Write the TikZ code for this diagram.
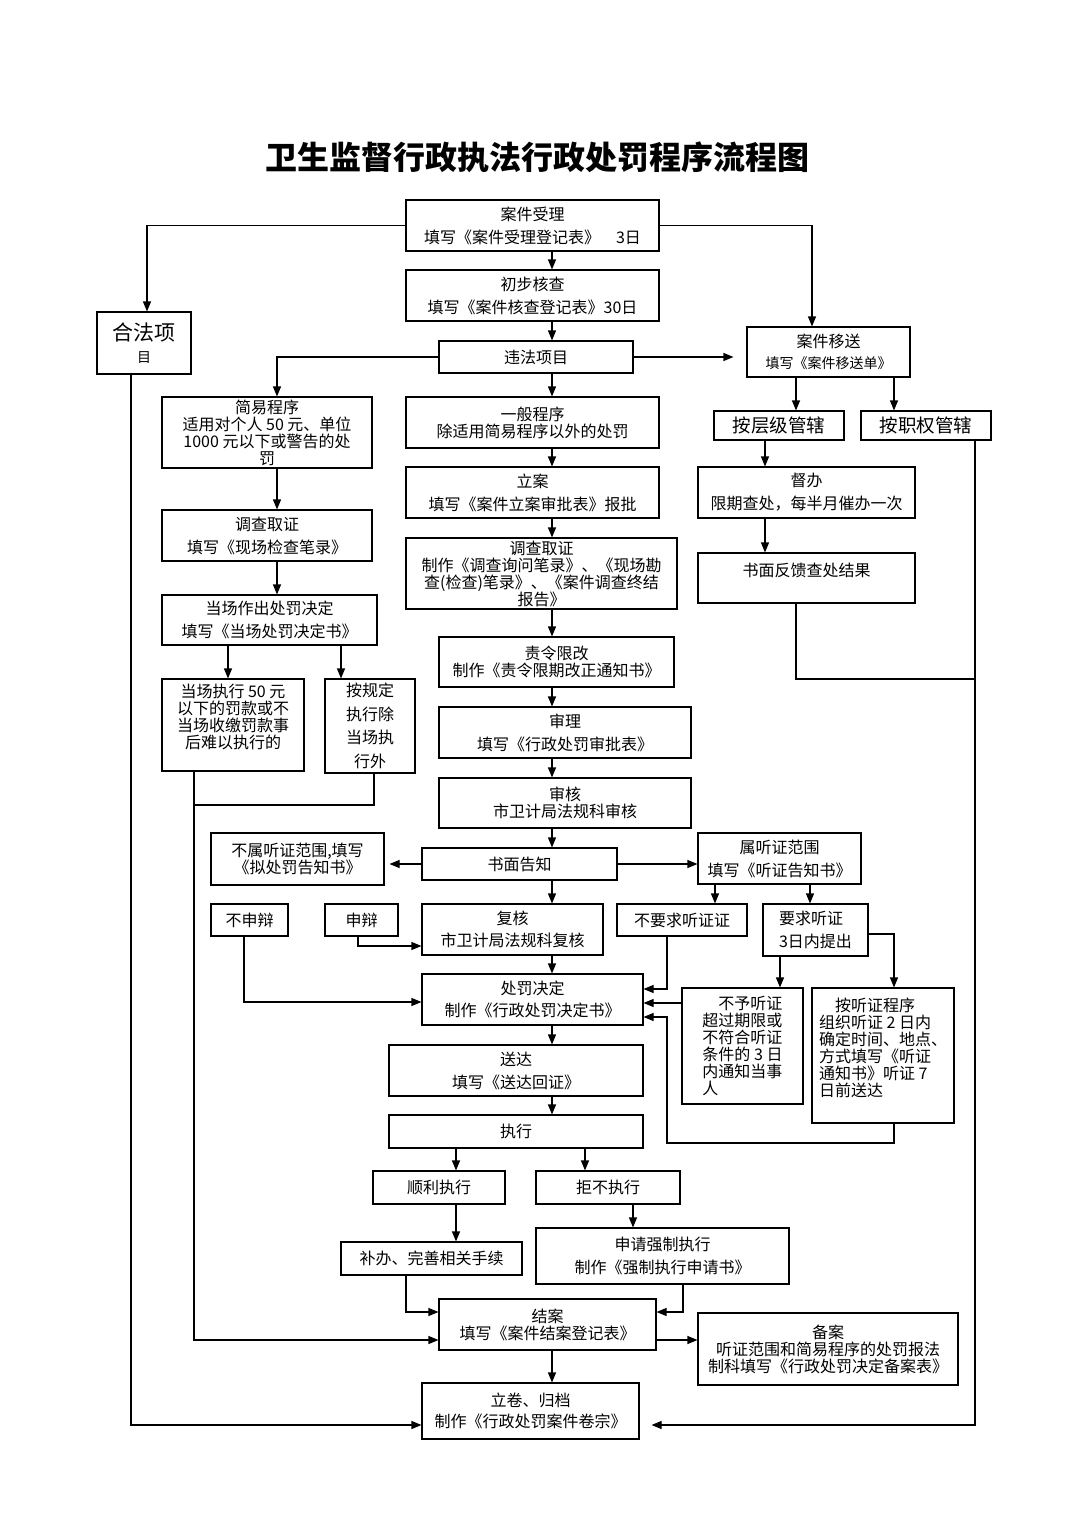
\documentclass[tikz,border=0pt]{standalone}
\usepackage{fontspec}
\setmainfont{Noto Sans CJK SC}
\usetikzlibrary{arrows.meta}

\begin{document}
\begin{tikzpicture}[x=1pt, y=-1pt, >={Triangle[length=10pt,width=8pt]},
  every node/.style={font=\fontsize{16}{17}\selectfont, align=center},
  box/.style={draw, line width=1.1pt, inner sep=1pt},
  link/.style={line width=1.1pt}]
  \useasboundingbox (0,0) rectangle (1074,1520);
  \node[font=\fontsize{32}{36}\selectfont\bfseries] (title) at (537,157) {卫生监督行政执法行政处罚程序流程图};

  \node[box, minimum width=253, minimum height=51] (accept) at (532.5,225.5) {案件受理\\[6pt]填写《案件受理登记表》\quad 3日};
  \node[box, minimum width=253, minimum height=51] (check) at (532.5,295.5) {初步核查\\[6pt]填写《案件核查登记表》30日};
  \node[box, minimum width=94, minimum height=62] (legal) at (144,343) {\fontsize{21}{24}\selectfont 合法项\\[5pt]\fontsize{14}{16}\selectfont 目};
  \node[box, minimum width=194, minimum height=32] (illegal) at (536,357) {违法项目};
  \node[box, minimum width=163, minimum height=50] (transfer) at (828.5,352) {案件移送\\[4pt]\fontsize{14}{16}\selectfont 填写《案件移送单》};
  \node[box, minimum width=130, minimum height=29, font=\fontsize{18.5}{20}\selectfont] (level) at (779,425.5) {按层级管辖};
  \node[box, minimum width=130, minimum height=29, font=\fontsize{18.5}{20}\selectfont] (power) at (926,425.5) {按职权管辖};
  \node[box, minimum width=210, minimum height=71] (simple) at (267,432.5) {简易程序\\适用对个人 50 元、单位\\1000 元以下或警告的处\\罚};
  \node[box, minimum width=253, minimum height=51] (general) at (532.5,422.5) {一般程序\\除适用简易程序以外的处罚};
  \node[box, minimum width=253, minimum height=51] (file) at (532.5,492.5) {立案\\[6pt]填写《案件立案审批表》报批};
  \node[box, minimum width=217, minimum height=51] (supervise) at (806.5,492.5) {督办\\[6pt]限期查处，每半月催办一次};
  \node[box, minimum width=210, minimum height=51] (invest1) at (267,535.5) {调查取证\\[6pt]填写《现场检查笔录》};
  \node[box, minimum width=271, minimum height=71] (invest2) at (541.5,573.5) {调查取证\\制作《调查询问笔录》、《现场勘\\查(检查)笔录》、《案件调查终结\\报告》};
  \node[box, minimum width=217, minimum height=50] (feedback) at (806.5,578) {书面反馈查处结果\\[0pt]~};
  \node[box, minimum width=215, minimum height=50] (onsite) at (269.5,620) {当场作出处罚决定\\[6pt]填写《当场处罚决定书》};
  \node[box, minimum width=235, minimum height=50] (order) at (556.5,662) {责令限改\\制作《责令限期改正通知书》};
  \node[box, minimum width=142, minimum height=92] (exec1) at (233,725) {当场执行 50 元\\以下的罚款或不\\当场收缴罚款事\\后难以执行的\\~};
  \node[box, minimum width=90, minimum height=94] (exec2) at (370,726) {按规定\\[6.5pt]执行除\\[6.5pt]当场执\\[6.5pt]行外};
  \node[box, minimum width=252, minimum height=51] (trial) at (565,732.5) {审理\\[6pt]填写《行政处罚审批表》};
  \node[box, minimum width=252, minimum height=50] (audit) at (565,803) {审核\\市卫计局法规科审核};
  \node[box, minimum width=173, minimum height=52] (nohear) at (297.5,859) {不属听证范围,填写\\《拟处罚告知书》};
  \node[box, minimum width=195, minimum height=32] (notify) at (519.5,864) {书面告知};
  \node[box, minimum width=163, minimum height=51] (hear) at (779.5,858.5) {属听证范围\\[6pt]填写《听证告知书》};
  \node[box, minimum width=77, minimum height=32] (nodefend) at (249.5,920) {不申辩};
  \node[box, minimum width=73, minimum height=32] (defend) at (361.5,920) {申辩};
  \node[box, minimum width=181, minimum height=51] (review) at (512.5,929.5) {复核\\[5.5pt]市卫计局法规科复核};
  \node[box, minimum width=130, minimum height=32] (norequest) at (682,920) {不要求听证证};
  \node[box, minimum width=105, minimum height=52, align=left] (request) at (815.5,930) {要求听证\\[6pt]3日内提出};
  \node[box, minimum width=221, minimum height=51] (decision) at (532.5,999.5) {处罚决定\\[4.5pt]制作《行政处罚决定书》};
  \node[box, minimum width=121, minimum height=116, align=left] (nogrant) at (742.5,1046) {\quad 不予听证\\超过期限或\\不符合听证\\条件的 3 日\\内通知当事\\人};
  \node[box, minimum width=142, minimum height=135, align=left] (hearproc) at (883,1055.5) {\quad 按听证程序\\组织听证 2 日内\\确定时间、地点、\\方式填写《听证\\通知书》听证 7\\日前送达\\~};
  \node[box, minimum width=254, minimum height=51] (deliver) at (516,1070.5) {送达\\[6pt]填写《送达回证》};
  \node[box, minimum width=254, minimum height=33] (execute) at (516,1131.5) {执行};
  \node[box, minimum width=132, minimum height=33] (smooth) at (439,1187.5) {顺利执行};
  \node[box, minimum width=144, minimum height=33] (refuse) at (608,1187.5) {拒不执行};
  \node[box, minimum width=181, minimum height=33] (supplement) at (431.5,1258.5) {补办、完善相关手续};
  \node[box, minimum width=253, minimum height=56] (enforce) at (662.5,1256) {申请强制执行\\[6.5pt]制作《强制执行申请书》};
  \node[box, minimum width=217, minimum height=51] (close) at (547.5,1324.5) {结案\\填写《案件结案登记表》};
  \node[box, minimum width=260, minimum height=72] (record) at (828,1349) {备案\\听证范围和简易程序的处罚报法\\制科填写《行政处罚决定备案表》};
  \node[box, minimum width=217, minimum height=56] (archive) at (530.5,1411) {立卷、归档\\[4.5pt]制作《行政处罚案件卷宗》};

  \coordinate (fbjoin) at (975,679);
  \coordinate (execjoin) at (194,805);

  \draw[->, link] (accept.west) -| (147,0 |- legal.north);
  \draw[->, link] (accept.east) -| (812,0 |- transfer.north);
  \draw[->, link] (552,0 |- accept.south) -- (552,0 |- check.north);
  \draw[->, link] (552,0 |- check.south) -- (552,0 |- illegal.north);
  \draw[->, link] (illegal.west) -| (277,0 |- simple.north);
  \draw[->, link, shorten >=13pt] (illegal.east) -- (illegal.east -| transfer.west);
  \draw[->, link] (552,0 |- illegal.south) -- (552,0 |- general.north);
  \draw[->, link] (796,0 |- transfer.south) -- (796,0 |- level.north);
  \draw[->, link] (894,0 |- transfer.south) -- (894,0 |- power.north);
  \draw[->, link] (765,0 |- level.south) -- (765,0 |- supervise.north);
  \draw[->, link] (765,0 |- supervise.south) -- (765,0 |- feedback.north);
  \draw[link] (796,0 |- feedback.south) |- (fbjoin);
  \draw[->, link, shorten >=12pt] (975,0 |- power.south) |- (archive.east |- 0,1425);
  \draw[->, link] (131,0 |- legal.south) |- (archive.west |- 0,1425);

  \draw[->, link] (277,0 |- simple.south) -- (277,0 |- invest1.north);
  \draw[->, link] (277,0 |- invest1.south) -- (277,0 |- onsite.north);
  \draw[->, link] (228,0 |- onsite.south) -- (228,0 |- exec1.north);
  \draw[->, link] (341,0 |- onsite.south) -- (341,0 |- exec2.north);
  \draw[->, link] (194,0 |- exec1.south) |- (close.west |- 0,1340);
  \draw[link] (374,0 |- exec2.south) |- (execjoin);

  \draw[->, link] (552,0 |- general.south) -- (552,0 |- file.north);
  \draw[->, link] (552,0 |- file.south) -- (552,0 |- invest2.north);
  \draw[->, link] (552,0 |- invest2.south) -- (552,0 |- order.north);
  \draw[->, link] (552,0 |- order.south) -- (552,0 |- trial.north);
  \draw[->, link] (552,0 |- trial.south) -- (552,0 |- audit.north);
  \draw[->, link] (552,0 |- audit.south) -- (552,0 |- notify.north);
  \draw[->, link, shorten >=5pt] (notify.west) -- (notify.west -| nohear.east);
  \draw[->, link] (notify.east) -- (notify.east -| hear.west);
  \draw[->, link] (552,0 |- notify.south) -- (552,0 |- review.north);
  \draw[->, link] (715,0 |- hear.south) -- (715,0 |- norequest.north);
  \draw[->, link] (810,0 |- hear.south) -- (810,0 |- request.north);
  \draw[->, link] (358,0 |- defend.south) |- (review.west |- 0,946);
  \draw[->, link] (244,0 |- nodefend.south) |- (decision.west |- 0,1002);
  \draw[->, link] (552,0 |- review.south) -- (552,0 |- decision.north);
  \draw[->, link] (667,0 |- norequest.south) |- (decision.east |- 0,989);
  \draw[->, link] (nogrant.west |- 0,1003) -- (decision.east |- 0,1003);
  \draw[->, link] (request.east |- 0,934) -| (894,0 |- hearproc.north);
  \draw[->, link] (780,0 |- request.south) -- (780,0 |- nogrant.north);
  \draw[->, link] (894,0 |- hearproc.south) |- (667,1143) |- (decision.east |- 0,1017);

  \draw[->, link] (552,0 |- decision.south) -- (552,0 |- deliver.north);
  \draw[->, link] (552,0 |- deliver.south) -- (552,0 |- execute.north);
  \draw[->, link] (456,0 |- execute.south) -- (456,0 |- smooth.north);
  \draw[->, link] (585,0 |- execute.south) -- (585,0 |- refuse.north);
  \draw[->, link] (456,0 |- smooth.south) -- (456,0 |- supplement.north);
  \draw[->, link] (633,0 |- refuse.south) -- (633,0 |- enforce.north);
  \draw[->, link] (406,0 |- supplement.south) |- (close.west |- 0,1312);
  \draw[->, link] (683,0 |- enforce.south) |- (close.east |- 0,1312);
  \draw[->, link] (close.east |- 0,1340) -- (record.west |- 0,1340);
  \draw[->, link] (552,0 |- close.south) -- (552,0 |- archive.north);
\end{tikzpicture}
\end{document}
